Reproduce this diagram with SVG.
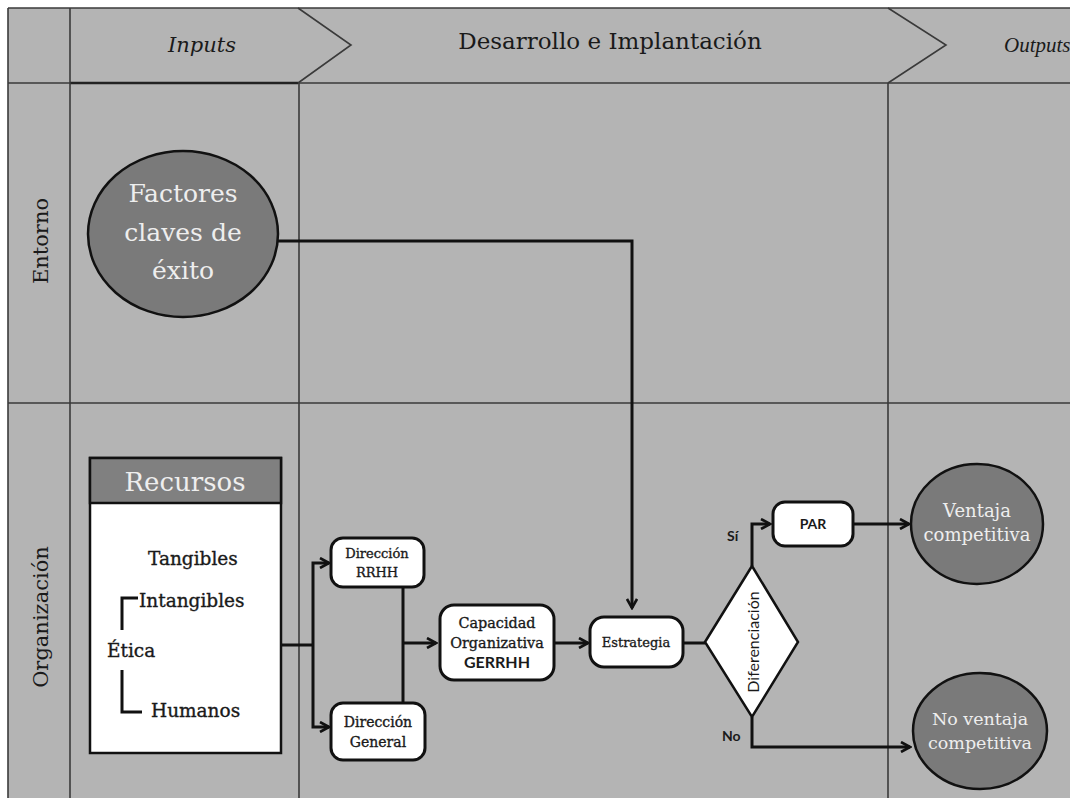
<svg xmlns="http://www.w3.org/2000/svg" width="1070" height="802" viewBox="0 0 1070 802">
<defs>
<style>
.grid{stroke:#3a3a3a;stroke-width:1.6;fill:none}
.conn{stroke:#111;stroke-width:3;fill:none}
.box{fill:#fff;stroke:#111;stroke-width:3}
.dark{fill:#7a7a7a;stroke:#111;stroke-width:2.5}
.slab{font-family:"DejaVu Serif","Liberation Serif",serif;fill:#1a1a1a}
.heavy{stroke:#1a1a1a;stroke-width:0.35}
.sans{font-family:Lato,"Liberation Sans",sans-serif;fill:#1a1a1a}
.light{fill:#eeeeee}
</style>
<marker id="arr" viewBox="0 0 12 12" refX="10" refY="6" markerWidth="12" markerHeight="12" markerUnits="userSpaceOnUse" orient="auto">
<path d="M1,1 L10,6 L1,11" fill="none" stroke="#111" stroke-width="2.6"/>
</marker>
</defs>
<rect x="0" y="0" width="1070" height="802" fill="#fff"/>
<rect x="8" y="8" width="1062" height="790" fill="#b4b4b4"/>
<g id="grid">
<line class="grid" x1="8" y1="8" x2="1070" y2="8"/>
<line class="grid" x1="8" y1="8" x2="8" y2="798"/>
<line class="grid" x1="8" y1="83" x2="1070" y2="83"/>
<line x1="70" y1="83" x2="298" y2="83" stroke="#222" stroke-width="2.4"/>
<line class="grid" x1="8" y1="403" x2="1070" y2="403"/>
<line class="grid" x1="70" y1="8" x2="70" y2="798"/>
<line class="grid" x1="299" y1="83" x2="299" y2="798"/>
<line class="grid" x1="888" y1="83" x2="888" y2="798"/>
<polyline class="grid" points="298,8 351,45 298,83"/>
<polyline class="grid" points="888,8 946,45 888,83"/>
</g>
<g id="headers">
<text class="slab" x="202" y="52" font-size="21" font-style="italic" text-anchor="middle">Inputs</text>
<text class="slab" x="610" y="49" font-size="23" text-anchor="middle">Desarrollo e Implantación</text>
<text x="1004" y="52" font-family="'Liberation Serif',serif" font-size="21" font-style="italic" fill="#1a1a1a">Outputs</text>
<text class="slab" font-size="21" text-anchor="middle" transform="translate(48,241) rotate(-90)">Entorno</text>
<text class="slab" font-size="21" text-anchor="middle" transform="translate(48,617) rotate(-90)">Organización</text>
</g>
<g id="connectors">
<polyline class="conn" points="278,241 632,241 632,608" marker-end="url(#arr)"/>
<line class="conn" x1="281" y1="645" x2="313" y2="645"/>
<polyline class="conn" points="313,645 313,563 329,563" marker-end="url(#arr)"/>
<polyline class="conn" points="313,645 313,727 329,727" marker-end="url(#arr)"/>
<line class="conn" x1="403" y1="587" x2="403" y2="703"/>
<line class="conn" x1="403" y1="643" x2="436" y2="643" marker-end="url(#arr)"/>
<line class="conn" x1="554" y1="643" x2="588" y2="643" marker-end="url(#arr)"/>
<line class="conn" x1="683" y1="643" x2="705" y2="643"/>
<polyline class="conn" points="752,566 752,524 770,524" marker-end="url(#arr)"/>
<line class="conn" x1="853" y1="524" x2="909" y2="524" marker-end="url(#arr)"/>
<polyline class="conn" points="752,717 752,747 910,747" marker-end="url(#arr)"/>
<text class="sans" x="727" y="541" font-size="14" font-weight="bold">Sí</text>
<text class="sans" x="722" y="741" font-size="14" font-weight="bold">No</text>
</g>
<g id="factores">
<ellipse class="dark" cx="183" cy="234" rx="95" ry="83"/>
<text class="slab light" font-size="25" text-anchor="middle"><tspan x="183" y="202">Factores</tspan><tspan x="183" y="241">claves de</tspan><tspan x="183" y="279">éxito</tspan></text>
</g>
<g id="recursos">
<rect x="90" y="458" width="191" height="295" fill="#fff" stroke="#111" stroke-width="2.5"/>
<rect x="90" y="458" width="191" height="45" fill="#808080" stroke="#111" stroke-width="2.5"/>
<text class="slab light" x="185" y="491" font-size="26" text-anchor="middle">Recursos</text>
<text class="slab heavy" x="148" y="565" font-size="18.5">Tangibles</text>
<text class="slab heavy" x="139" y="607" font-size="18.5">Intangibles</text>
<text class="slab heavy" x="107" y="657" font-size="18.5">Ética</text>
<text class="slab heavy" x="151" y="717" font-size="18.5">Humanos</text>
<polyline points="122,630 122,598 138,598" fill="none" stroke="#111" stroke-width="3"/>
<polyline points="122,670 122,712 142,712" fill="none" stroke="#111" stroke-width="3"/>
</g>
<g id="dir-rrhh">
<rect class="box" x="331" y="538" width="93" height="49" rx="12"/>
<text class="slab heavy" font-size="13" text-anchor="middle"><tspan x="377" y="558">Dirección</tspan><tspan x="377" y="577">RRHH</tspan></text>
</g>
<g id="dir-general">
<rect class="box" x="331" y="703" width="94" height="57" rx="12"/>
<text class="slab heavy" font-size="14" text-anchor="middle"><tspan x="378" y="727">Dirección</tspan><tspan x="378" y="747">General</tspan></text>
</g>
<g id="capacidad">
<rect class="box" x="440" y="605" width="114" height="75" rx="14"/>
<text class="slab heavy" font-size="14.4" text-anchor="middle"><tspan x="497" y="628">Capacidad</tspan><tspan x="497" y="648">Organizativa</tspan></text>
<text class="sans" x="497" y="668" font-size="16" font-weight="bold" text-anchor="middle">GERRHH</text>
</g>
<g id="estrategia">
<rect class="box" x="590" y="617" width="93" height="50" rx="14"/>
<text class="slab heavy" x="636" y="647" font-size="13" text-anchor="middle">Estrategia</text>
</g>
<g id="diferenciacion">
<polygon points="705,642 752,566 798,642 752,717" fill="#fff" stroke="#111" stroke-width="2.5"/>
<text class="sans" font-size="16" text-anchor="middle" transform="translate(759,642) rotate(-90)">Diferenciación</text>
</g>
<g id="par">
<rect class="box" x="773" y="502" width="80" height="44" rx="12"/>
<text class="sans" x="813" y="529" font-size="14" font-weight="bold" text-anchor="middle">PAR</text>
</g>
<g id="ventaja">
<ellipse class="dark" cx="977" cy="524" rx="66" ry="60"/>
<text class="slab light" font-size="18" text-anchor="middle"><tspan x="977" y="517">Ventaja</tspan><tspan x="977" y="541">competitiva</tspan></text>
</g>
<g id="no-ventaja">
<ellipse class="dark" cx="980" cy="731" rx="67" ry="58"/>
<text class="slab light" font-size="17.5" text-anchor="middle"><tspan x="980" y="725">No ventaja</tspan><tspan x="980" y="749">competitiva</tspan></text>
</g>
</svg>
